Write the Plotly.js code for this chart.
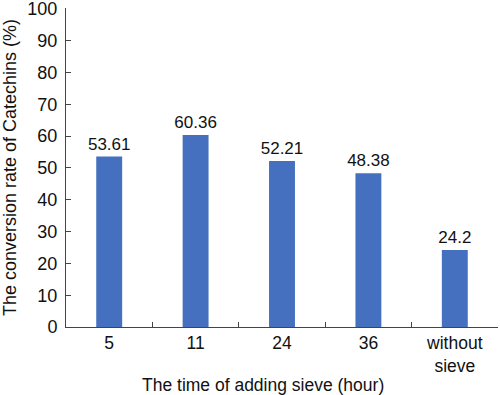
<!DOCTYPE html>
<html><head><meta charset="utf-8">
<script src="https://cdn.plot.ly/plotly-3.0.1.min.js"></script>
<style>html,body{margin:0;padding:0;background:#fff}#c{width:500px;height:395px}</style>
</head><body><div id="c"></div>
<script>
const categories = ["5", "11", "24", "36", "without<br>sieve"];
const values = [53.61, 60.36, 52.21, 48.38, 24.2];
const labels = ["53.61", "60.36", "52.21", "48.38", "24.2"];
const yTicks = [0,10,20,30,40,50,60,70,80,90,100];

const fam = "Liberation Sans, Arial, sans-serif";
Plotly.newPlot("c", [{
  type: "bar", x: categories, y: values, text: labels, textposition: "outside",
  constraintext: "none", textfont: {family: fam, size: 17, color: "#111"},
  marker: {color: "#4470bf"}, cliponaxis: false, hoverinfo: "none"
}], {
  width: 500, height: 395, margin: {l: 66, r: 2, t: 8, b: 68},
  paper_bgcolor: "#fff", plot_bgcolor: "#fff", showlegend: false, bargap: 0.7,
  font: {family: fam, color: "#111", size: 17},
  xaxis: {type: "category", tickson: "boundaries", ticks: "inside", ticklen: 5, tickcolor: "#444",
    showline: true, linecolor: "#444", linewidth: 1, showgrid: false, zeroline: false,
    tickfont: {family: fam, size: 17.5, color: "#111"}},
  yaxis: {range: [0, 100.3], tickvals: yTicks, ticks: "inside", ticklen: 5, tickcolor: "#444",
    showline: true, linecolor: "#444", linewidth: 1, showgrid: false, zeroline: false,
    ticklabeloverflow: "allow",
    tickfont: {family: fam, size: 18, color: "#111"}, ticklabelstandoff: 4,
    title: {text: "The conversion rate of Catechins (%)", font: {family: fam, size: 18, color: "#111"}, standoff: 6}},
  annotations: [{text: "The time of adding sieve (hour)", xref: "paper", yref: "paper",
    x: 0.455, y: -0.182, xanchor: "center", yanchor: "middle", showarrow: false,
    font: {family: fam, size: 17.5, color: "#111"}}]
}, {staticPlot: true});
</script></body></html>
